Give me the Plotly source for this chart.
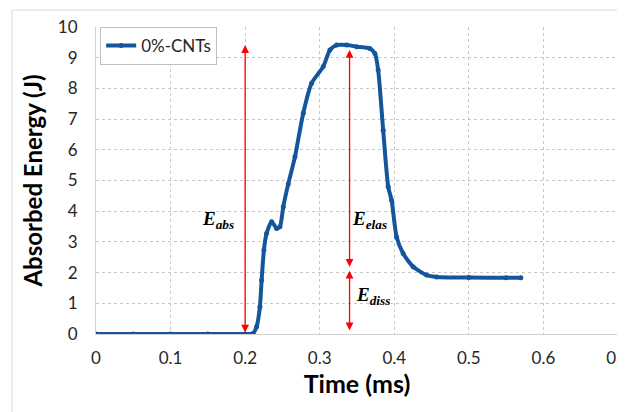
import plotly.graph_objects as go

# ---- data ----
time_ms = [0.0, 0.05, 0.10, 0.15, 0.20, 0.2105, 0.2154, 0.2198, 0.2221, 0.2252, 0.2288,
           0.2355, 0.2422, 0.2466, 0.2511, 0.2578, 0.2668, 0.2779, 0.2891, 0.3047,
           0.3137, 0.3227, 0.3361, 0.3495, 0.3673, 0.3740, 0.3784, 0.3851, 0.3918,
           0.3964, 0.4031, 0.4119, 0.4253, 0.4433, 0.4567, 0.50, 0.55, 0.5697]
energy_j = [0.0, 0.0, 0.0, 0.0, 0.0, 0.02, 0.24, 0.89, 1.75, 2.74, 3.28,
            3.66, 3.44, 3.49, 4.14, 4.89, 5.77, 7.19, 8.17, 8.71,
            9.25, 9.41, 9.41, 9.36, 9.30, 9.14, 8.60, 6.64, 4.80,
            4.36, 3.16, 2.62, 2.19, 1.92, 1.86, 1.84, 1.83, 1.83]
series_name = "0%-CNTs"

# energy arrows (x position, start, end)
arrow_x = [0.20, 0.34, 0.34]
arrow_y0 = [0.0, 2.14, 0.07]
arrow_y1 = [9.41, 9.25, 2.06]

# energy labels
label_text = ["<b><i>E</i></b><sub><b><i>abs</i></b></sub>",
              "<b><i>E</i></b><sub><b><i>elas</i></b></sub>",
              "<b><i>E</i></b><sub><b><i>diss</i></b></sub>"]
label_x = [0.163, 0.367, 0.371]
label_y = [3.72, 3.72, 1.25]

x_range = [0, 0.7]
y_range = [0, 10]

fig = go.Figure()
fig.add_trace(go.Scatter(
    x=time_ms, y=energy_j, name=series_name, mode="lines+markers",
    line=dict(color="#14559c", width=4, shape="spline", smoothing=0.6),
    marker=dict(color="#14559c", size=5),
))

annotations = []
for xa, y0, y1 in zip(arrow_x, arrow_y0, arrow_y1):
    annotations.append(dict(
        x=xa, y=y1, ax=xa, ay=y0, xref="x", yref="y", axref="x", ayref="y",
        text="", showarrow=True, arrowhead=2, arrowside="end+start",
        arrowsize=1.2, arrowwidth=1.3, arrowcolor="#ff0000", standoff=0, startstandoff=0,
    ))
for t, xl, yl in zip(label_text, label_x, label_y):
    annotations.append(dict(
        x=xl, y=yl, xref="x", yref="y", text=t, showarrow=False,
        font=dict(family="Liberation Serif", size=19, color="#000000"),
    ))

fig.update_layout(
    width=617, height=404,
    margin=dict(l=88, r=7, t=19, b=78),
    paper_bgcolor="white", plot_bgcolor="white",
    showlegend=True,
    legend=dict(x=0.008, y=1.0, xanchor="left", yanchor="top",
                bordercolor="#bfbfbf", borderwidth=1, bgcolor="white",
                font=dict(family="Lato", size=17, color="#262626"),
                itemwidth=30, tracegroupgap=0),
    annotations=annotations,
    shapes=[dict(type="rect", xref="paper", yref="paper",
                 x0=-0.161, x1=1.03, y0=-0.3, y1=1.055,
                 line=dict(color="#d9d9d9", width=1), layer="below")],
    font=dict(family="Lato", color="#262626"),
)

fig.update_xaxes(
    range=x_range, dtick=0.1, tick0=0, automargin=False,
    showgrid=True, gridcolor="#c8c8c8", griddash="dot", gridwidth=1,
    showline=True, linecolor="#d0d0d0", linewidth=1,
    zeroline=False, ticklabeloverflow="allow",
    ticks="outside", ticklen=9, tickcolor="rgba(0,0,0,0)",
    tickfont=dict(family="Lato", size=17, color="#262626"),
    title=dict(text="<b>Time (ms)</b>", font=dict(family="Lato", size=25, color="#000000"), standoff=4),
)
fig.update_yaxes(
    range=y_range, dtick=1, tick0=0, automargin=False,
    showgrid=True, gridcolor="#c8c8c8", griddash="dot", gridwidth=1,
    showline=True, linecolor="#d0d0d0", linewidth=1,
    zeroline=False,
    ticks="outside", ticklen=14, tickcolor="rgba(0,0,0,0)",
    tickfont=dict(family="Lato", size=17, color="#262626"),
    title=dict(text="<b>Absorbed Energy (J)</b>", font=dict(family="Lato", size=24, color="#000000"), standoff=8),
)

fig.write_html("out.html")
